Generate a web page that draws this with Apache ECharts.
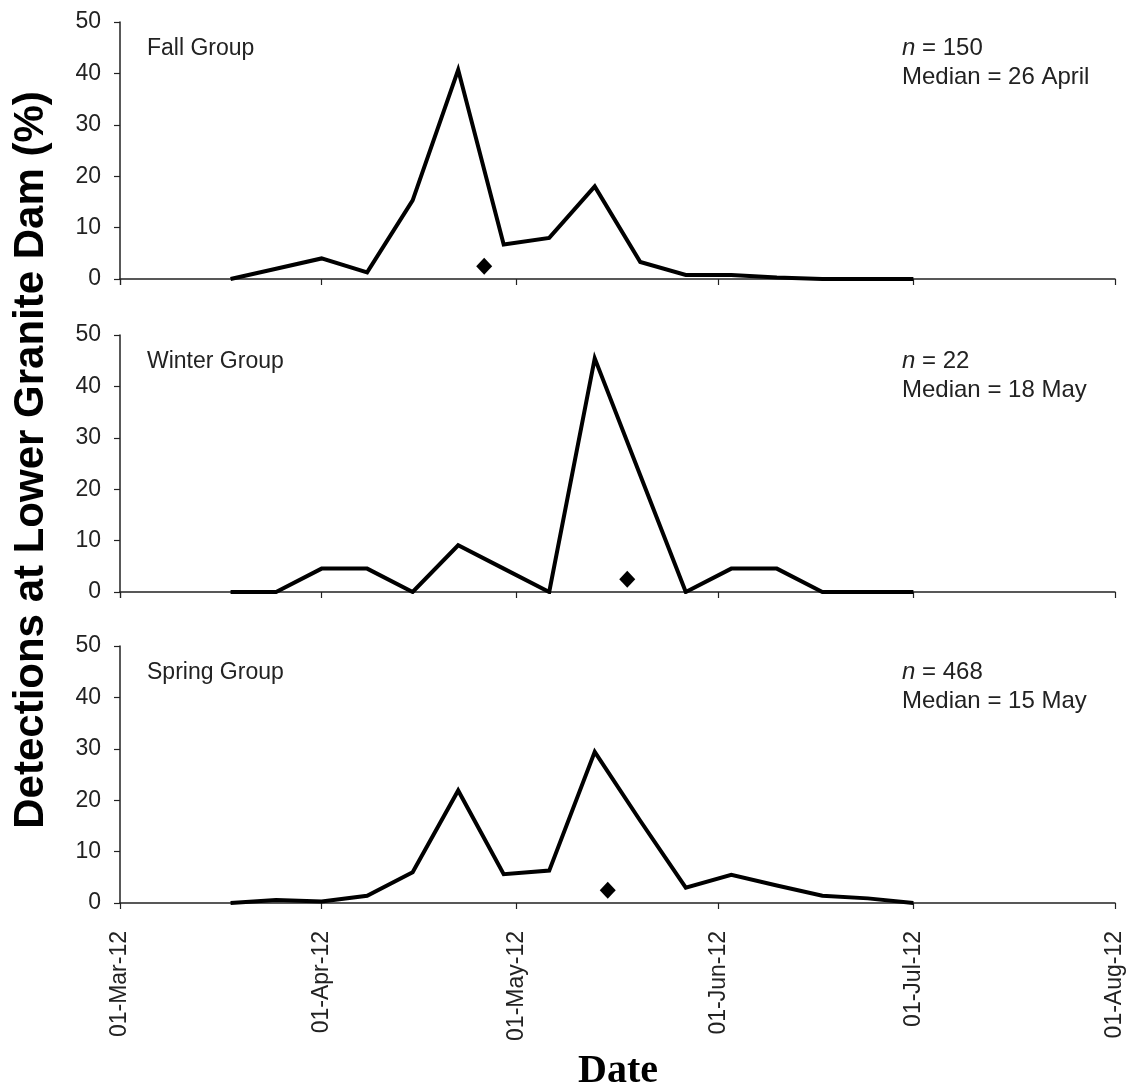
<!DOCTYPE html>
<html>
<head>
<meta charset="utf-8">
<style>
  body, html { margin: 0; padding: 0; width: 100%; height: 100%; overflow: hidden; background: #fff; }
  #chart-wrapper { width: 1133px; height: 1091px; }
</style>
</head>
<body>
<div id="chart-wrapper"></div>
<script src="https://cdn.jsdelivr.net/npm/echarts@6/dist/echarts.min.js"></script>
<script>
  // weekly sample dates
  const weeks = [
    "2012-03-18", "2012-03-25", "2012-04-01", "2012-04-08", "2012-04-15", "2012-04-22",
    "2012-04-29", "2012-05-06", "2012-05-13", "2012-05-20", "2012-05-27", "2012-06-03",
    "2012-06-10", "2012-06-17", "2012-06-24", "2012-07-01"
  ];
  // detections (%) per group
  const fallValues = [0, 2, 4, 1.3, 15.3, 40.7, 6.7, 8, 18, 3.3, 0.8, 0.8, 0.3, 0, 0, 0];
  const winterValues = [0, 0, 4.55, 4.55, 0, 9.09, 4.55, 0, 45.45, 22.73, 0, 4.55, 4.55, 0, 0, 0];
  const springValues = [0, 0.6, 0.3, 1.4, 6.0, 21.9, 5.6, 6.3, 29.4, 16, 3.0, 5.5, 3.4, 1.4, 0.9, 0];
  // medians (date, marker height)
  const medianDates = ["2012-04-26", "2012-05-18", "2012-05-15"];
  const medianMarkY = 2.5;
  const groupNames = ["Fall Group", "Winter Group", "Spring Group"];
  const groupN = ["150", "22", "468"];
  const medianText = ["26 April", "18 May", "15 May"];
  const yTicks = { min: 0, max: 50, interval: 10 };
  const xRange = { min: "2012-03-01", max: "2012-08-01" };

  const monthNames = ["Jan", "Feb", "Mar", "Apr", "May", "Jun", "Jul", "Aug", "Sep", "Oct", "Nov", "Dec"];
  const fmtDate = (v) => {
    const d = new Date(v);
    const dd = String(d.getDate()).padStart(2, "0");
    return dd + "-" + monthNames[d.getMonth()] + "-" + String(d.getFullYear()).slice(2);
  };

  const FONT = "Liberation Sans";
  const gridTops = [22, 335, 646];
  const gridH = 257;
  const allValues = [fallValues, winterValues, springValues];

  const chartDom = document.getElementById("chart-wrapper");
  const chart = echarts.init(chartDom, null, { renderer: "canvas" });

  const grids = gridTops.map((t) => ({ left: 120, right: 18, top: t, height: gridH, containLabel: false }));

  const xAxes = gridTops.map((t, i) => ({
    type: "time",
    gridIndex: i,
    min: xRange.min,
    max: xRange.max,
    splitNumber: 5,
    axisLine: { lineStyle: { color: "#222", width: 1.5 } },
    axisTick: { show: true, length: 6, lineStyle: { color: "#222", width: 1.2 } },
    splitLine: { show: false },
    axisLabel: {
      show: i === 2,
      rotate: 90,
      margin: 28,
      fontFamily: FONT,
      fontSize: 23,
      color: "#222",
      showMinLabel: true,
      showMaxLabel: true,
      hideOverlap: false,
      formatter: (v) => fmtDate(v)
    }
  }));

  const yAxes = gridTops.map((t, i) => ({
    type: "value",
    gridIndex: i,
    min: yTicks.min,
    max: yTicks.max,
    interval: yTicks.interval,
    axisLine: { show: true, lineStyle: { color: "#222", width: 1.5 } },
    axisTick: { show: true, length: 6, lineStyle: { color: "#222", width: 1.2 } },
    splitLine: { show: false },
    axisLabel: { margin: 19, fontFamily: FONT, fontSize: 23, color: "#222" }
  }));

  const series = [];
  allValues.forEach((vals, i) => {
    series.push({
      type: "line",
      xAxisIndex: i,
      yAxisIndex: i,
      data: weeks.map((w, k) => [w, vals[k]]),
      showSymbol: false,
      symbol: "none",
      lineStyle: { color: "#000", width: 4, join: "miter" },
      animation: false
    });
    series.push({
      type: "scatter",
      xAxisIndex: i,
      yAxisIndex: i,
      data: [[medianDates[i], medianMarkY]],
      symbol: "diamond",
      symbolSize: [16, 17],
      itemStyle: { color: "#000", opacity: 1 },
      animation: false
    });
  });

  const graphics = [];
  gridTops.forEach((t, i) => {
    graphics.push({
      type: "text",
      left: 147,
      top: t + 15,
      style: { text: groupNames[i], font: "23px " + FONT, fill: "#222" }
    });
    graphics.push({
      type: "text",
      left: 902,
      top: t + 12,
      style: {
        text: "{i|n} = " + groupN[i] + "\nMedian = " + medianText[i],
        font: "24px " + FONT,
        fill: "#222",
        lineHeight: 29,
        rich: { i: { fontStyle: "italic", fontFamily: FONT, fontSize: 24, fill: "#222" } }
      }
    });
  });
  graphics.push({
    type: "text",
    x: 31,
    y: 460,
    rotation: Math.PI / 2,
    style: {
      text: "Detections at Lower Granite Dam (%)",
      font: "bold 42px " + FONT,
      fill: "#000",
      textAlign: "center",
      textVerticalAlign: "middle"
    }
  });
  graphics.push({
    type: "text",
    x: 618,
    y: 1072,
    style: {
      text: "Date",
      font: "bold 40px 'Liberation Serif'",
      fill: "#000",
      textAlign: "center",
      textVerticalAlign: "middle"
    }
  });

  const option = {
    backgroundColor: "#fff",
    animation: false,
    grid: grids,
    xAxis: xAxes,
    yAxis: yAxes,
    series: series,
    graphic: graphics
  };
  chart.setOption(option);
</script>
</body>
</html>
